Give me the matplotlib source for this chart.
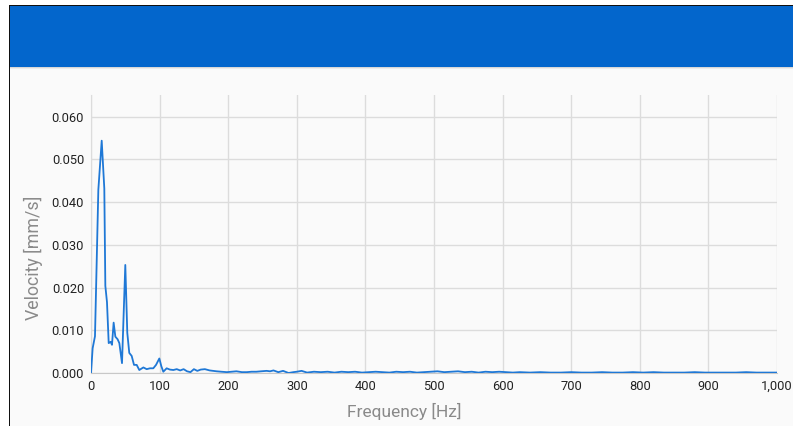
import matplotlib.pyplot as plt
from matplotlib.patches import Rectangle
from matplotlib.ticker import FuncFormatter

plt.rcParams['font.family'] = ['Roboto', 'DejaVu Sans']

# spectrum, low band read closely
freq_low = [0, 2.4, 5.8, 10.7, 15.6, 19.4, 20.9, 23.3, 25.8, 28.6, 30.6, 33.0,
            35.5, 38.8, 41.3, 45.2, 50.0, 52.9, 55.8, 59.3, 62.7, 66.6, 70.4,
            76.3, 81.2, 86.0, 90.8, 94.8, 99.6, 102.5, 105.4, 110.3]
vel_low = [0.0, 0.0058, 0.0086, 0.0429, 0.0544, 0.0432, 0.0204, 0.0166,
           0.0070, 0.0073, 0.0066, 0.0118, 0.0085, 0.0079, 0.0070, 0.0023,
           0.0253, 0.0094, 0.0047, 0.0040, 0.0019, 0.0019, 0.0007, 0.0013,
           0.0009, 0.0011, 0.0011, 0.0019, 0.0034, 0.0016, 0.0003, 0.0011]

# tail, coarser
freq_tail = [115, 120, 125, 130, 135, 140, 145, 150, 155, 160, 166, 173, 178,
             183, 190, 198, 205, 212, 220, 227, 234, 241, 248, 256, 261, 266,
             273, 280, 288, 295, 300, 307, 315, 325, 335, 345, 355, 365, 375,
             385, 395, 405, 415, 425, 435, 445, 455, 465, 475, 485, 495, 505,
             515, 525, 535, 545, 555, 565, 575, 585, 595, 605, 615, 625, 640,
             655, 670, 685, 700, 715, 730, 745, 760, 775, 790, 805, 820, 835,
             850, 865, 880, 895, 910, 925, 940, 955, 970, 985, 1000]
vel_tail = [0.0008, 0.0007, 0.0009, 0.0006, 0.0009, 0.0004, 0.0002, 0.0009,
            0.0005, 0.0008, 0.0009, 0.0006, 0.0005, 0.0004, 0.0003, 0.0002,
            0.0003, 0.0004, 0.0002, 0.0002, 0.0003, 0.0003, 0.0004, 0.0005,
            0.0004, 0.0006, 0.0002, 0.0005, 0.0000, 0.0002, 0.0003, 0.0005,
            0.0001, 0.0003, 0.0002, 0.0003, 0.0001, 0.0003, 0.0002, 0.0003,
            0.0001, 0.0002, 0.0003, 0.0002, 0.0001, 0.0003, 0.0002, 0.0003,
            0.0001, 0.0002, 0.0003, 0.0004, 0.0002, 0.0003, 0.0004, 0.0002,
            0.0003, 0.0001, 0.0003, 0.0002, 0.0003, 0.0002, 0.0001, 0.0002,
            0.0001, 0.0002, 0.0001, 0.0001, 0.0002, 0.0001, 0.0001, 0.0002,
            0.0001, 0.0001, 0.0002, 0.0001, 0.0002, 0.0001, 0.0001, 0.0001,
            0.0002, 0.0001, 0.0001, 0.0001, 0.0001, 0.0002, 0.0001, 0.0001,
            0.0001]

x_ticks = [0, 100, 200, 300, 400, 500, 600, 700, 800, 900, 1000]
y_ticks = [0.0, 0.01, 0.02, 0.03, 0.04, 0.05, 0.06]

freq = freq_low + freq_tail
vel = vel_low + vel_tail

fig = plt.figure(figsize=(7.93, 4.26), dpi=100, facecolor='white')

# page frame + header bar
fig.patches.append(Rectangle((10 / 793, 0), 1, 1 - 6 / 426, transform=fig.transFigure,
                             facecolor='#fafafa', edgecolor='none', zorder=0))
fig.patches.append(Rectangle((9 / 793, 0), 1.3 / 793, 1 - 5 / 426, transform=fig.transFigure,
                             facecolor='#111111', edgecolor='none', zorder=1))
fig.patches.append(Rectangle((9 / 793, 1 - 6.5 / 426), 1, 1.5 / 426, transform=fig.transFigure,
                             facecolor='#111111', edgecolor='none', zorder=1))
for i, c in enumerate(['#b8b8b8', '#d8d8d8', '#ececec']):
    fig.patches.append(Rectangle((10 / 793, 1 - (67 + i) / 426), 1, 1 / 426,
                                 transform=fig.transFigure, facecolor=c,
                                 edgecolor='none', zorder=1))
fig.patches.append(Rectangle((10 / 793, 1 - 66.5 / 426), 1, 60 / 426, transform=fig.transFigure,
                             facecolor='#0366cc', edgecolor='none', zorder=2))

ax = fig.add_axes([91 / 793, 1 - 373 / 426, 686 / 793, 278 / 426])
ax.set_zorder(10)
ax.set_facecolor('none')
ax.plot(freq, vel, color='#1f78d6', linewidth=1.3, zorder=3)

ax.set_xlim(0, 1000)
ax.set_ylim(0, 0.0651)
ax.set_xticks(x_ticks)
ax.set_yticks(y_ticks)
ax.xaxis.set_major_formatter(FuncFormatter(lambda v, p: f'{int(v):,}'))
ax.yaxis.set_major_formatter(FuncFormatter(lambda v, p: f'{v:.3f}'))
ax.grid(True, color='#dcdcdc', linewidth=1)
ax.tick_params(length=0, labelsize=9.3, labelcolor='#222222', pad=5)
for s in ['top', 'right']:
    ax.spines[s].set_visible(False)
ax.spines['left'].set_color('#dcdcdc')
ax.spines['bottom'].set_color('#c8c8c8')

ax.set_xlabel('Frequency [Hz]', fontsize=12.5, color='#8a8a8a')
ax.set_ylabel('Velocity [mm/s]', fontsize=12.8, color='#8a8a8a')
ax.xaxis.set_label_coords(0.457, -0.107)
ax.yaxis.set_label_coords(-0.070, 0.4155)

fig.savefig('out.png', dpi=100)
